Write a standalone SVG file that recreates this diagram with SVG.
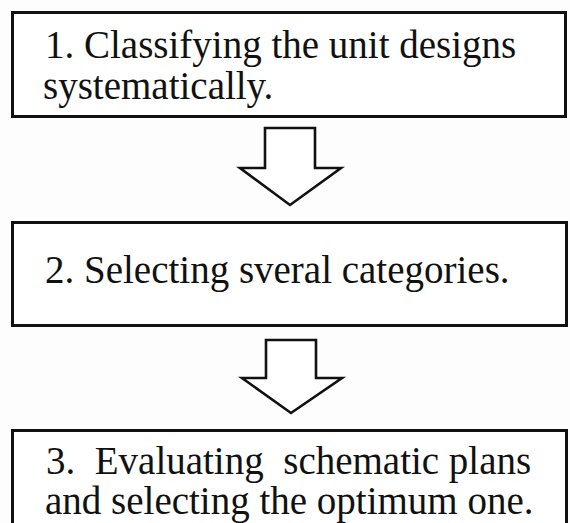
<svg xmlns="http://www.w3.org/2000/svg" width="570" height="523" viewBox="0 0 570 523">
  <style>
    .box { fill: #ffffff; stroke: #111111; stroke-width: 3; }
    .arrow { fill: #ffffff; stroke: #111111; stroke-width: 2.6; stroke-linejoin: miter; }
    .label { font-family: "Liberation Serif", "Times New Roman", serif; font-size: 39px; fill: #111111; white-space: pre; }
  </style>
  <rect x="0" y="0" width="570" height="523" fill="#fdfdfd"/>

  <g id="step1">
    <rect class="box" x="12.5" y="12.5" width="553" height="104"/>
    <text class="label" x="45" y="58">1. Classifying the unit designs</text>
    <text class="label" x="43" y="99">systematically.</text>
  </g>

  <g id="step2">
    <rect class="box" x="12.5" y="222.5" width="554" height="103"/>
    <text class="label" x="45" y="283">2. Selecting sveral categories.</text>
  </g>

  <g id="step3">
    <rect class="box" x="12.5" y="430.5" width="554" height="110"/>
    <text class="label" x="46" y="474" xml:space="preserve">3.  Evaluating  schematic plans</text>
    <text class="label" x="45" y="514">and selecting the optimum one.</text>
  </g>

  <g id="connectors">
    <!-- hollow block arrow: step 1 to step 2 -->
    <path class="arrow" d="M265,128 H315 V168 H341 L290,205 L240,168 H265 Z"/>
    <!-- hollow block arrow: step 2 to step 3 -->
    <path class="arrow" d="M266,340 H316 V378 H342 L291,413 L242,378 H266 Z"/>
  </g>
</svg>
